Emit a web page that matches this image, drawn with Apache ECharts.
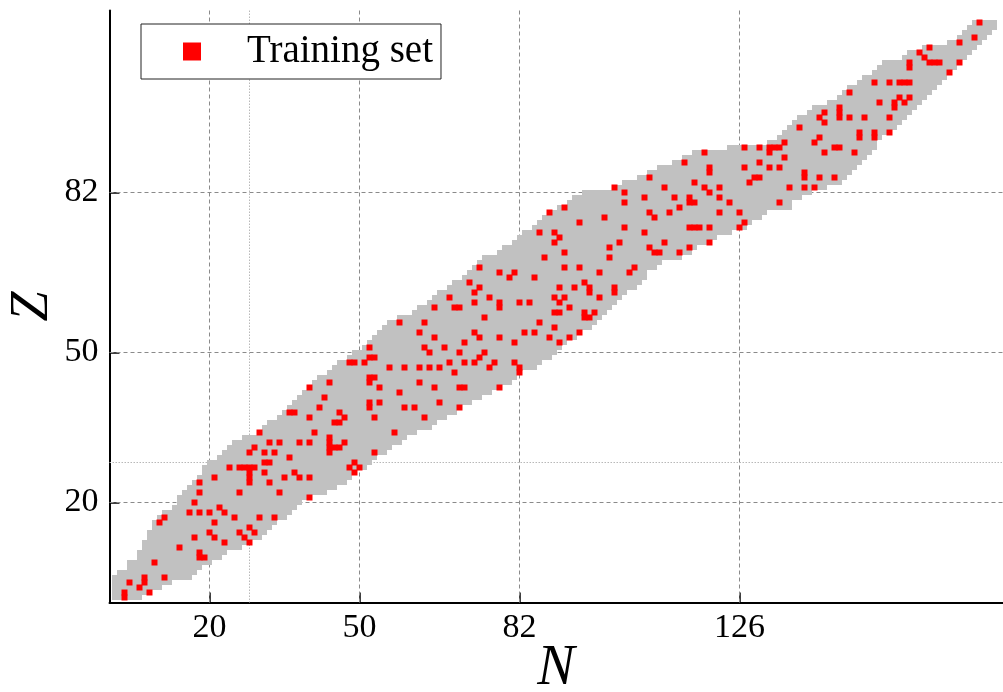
<!DOCTYPE html>
<html>
<head>
<meta charset="utf-8">
<script src="https://cdn.jsdelivr.net/npm/echarts@6/dist/echarts.min.js"></script>
<style>
  html, body { margin: 0; padding: 0; background: #fff; }
  #chart { width: 1003px; height: 692px; }
</style>
</head>
<body>
<div id="chart"></div>
<script>
// Magic numbers marked on the axes, plus the weaker shell closure at 28
const magicN = [20, 50, 82, 126];
const magicZ = [20, 50, 82];
const minorMagic = 28;

// Lightest and heaviest neutron number of the known nuclei, for Z = 1, 2, 3, ...
const nMin = [
  1, 1, 1, 1, 1, 2, 4, 4, 6, 6,
  7, 7, 8, 8, 9, 9, 10, 11, 13, 14,
  14, 15, 16, 17, 18, 19, 19, 20, 22, 23,
  24, 25, 27, 30, 31, 32, 34, 35, 36, 37,
  38, 39, 40, 41, 42, 44, 45, 46, 48, 49,
  51, 52, 53, 54, 55, 56, 58, 61, 62, 64,
  65, 66, 68, 69, 71, 72, 73, 74, 75, 78,
  79, 81, 82, 83, 85, 86, 87, 88, 90, 92,
  93, 95, 101, 103, 106, 108, 110, 113, 115, 117,
  124, 132, 134, 135, 136, 137, 138, 140, 141, 144,
  146, 147, 148, 150, 151, 153, 154, 155, 159, 160,
  163, 168, 170, 171, 172, 173
];
const nMax = [
  6, 8, 10, 12, 16, 17, 18, 20, 22, 23,
  26, 28, 30, 31, 32, 33, 35, 36, 37, 38,
  40, 43, 45, 47, 48, 49, 51, 52, 53, 55,
  56, 58, 59, 61, 64, 65, 67, 69, 70, 72,
  74, 76, 78, 80, 81, 82, 85, 86, 88, 89,
  90, 91, 93, 94, 96, 97, 98, 99, 100, 101,
  102, 103, 105, 106, 107, 107, 109, 110, 114, 116,
  117, 120, 121, 124, 127, 128, 130, 131, 136, 136,
  138, 140, 143, 146, 147, 148, 149, 150, 151, 152,
  153, 153, 154, 156, 157, 158, 159, 160, 161, 162,
  163, 164, 165, 166, 167, 168, 169, 170, 171, 172,
  173, 174, 175, 176, 177, 177
];

// Training-set nuclei as [N, Z]
const trainingSet = [
  [3,1],[3,2],[8,2],[6,3],[4,4],[7,4],[7,5],[11,5],[9,8],[18,9],[19,9],[18,10],[14,11],[23,12],
  [17,13],[21,13],[20,14],[10,16],[21,16],[11,17],[25,17],[16,18],[18,18],[20,18],[23,18],[22,19],
  [17,20],[18,22],[18,24],[21,25],[24,27],
  [48,48],[44,44],[40,43],[43,41],[42,39],[36,38],[37,38],[46,38],[40,37],[47,37],[45,36],[46,36],
  [30,34],[41,34],[44,33],[44,32],[44,31],[45,31],[46,31],[44,30],[47,32],[32,32],[34,32],[38,32],
  [40,32],[29,31],[28,30],[31,30],[33,30],[36,29],[31,28],[32,28],[26,27],[27,27],[28,27],[29,27],
  [28,26],[28,25],[28,24],[31,26],[37,26],[35,25],[38,25],[40,25],[32,24],[26,22],[34,22],[40,21],
  [30,17],[33,17],[28,15],[26,14],[29,14],[27,13],[28,12],
  [68,61],[65,59],[69,59],[70,59],[58,56],[63,56],[62,54],[65,53],[71,52],[52,51],[63,51],[67,51],
  [64,50],[70,50],[52,49],[53,49],[49,48],[51,48],[68,48],[71,48],[56,47],[59,47],[62,47],[64,47],
  [66,47],[69,46],[52,45],[53,45],[52,44],[62,44],[54,43],[65,43],[70,43],[71,43],[58,42],[52,40],
  [52,39],[54,40],[66,40],[59,39],[61,39],[70,39],[53,37],[63,37],[57,34],[53,30],[49,28],[48,27],
  [50,27],[49,26],
  [91,79],[88,78],[94,76],[86,74],[89,74],[90,73],[89,72],[91,70],[87,69],[74,67],[91,67],[94,67],
  [78,66],[81,66],[80,65],[85,65],[72,64],[74,63],[90,63],[93,63],[73,62],[76,61],[89,61],[91,61],
  [73,60],[78,60],[82,60],[84,60],[90,60],[78,59],[92,59],[89,58],[90,58],[75,57],[86,56],[89,55],
  [73,54],[83,54],[85,54],[94,54],[74,53],[78,53],[88,53],[92,53],[81,52],[90,52],[75,50],[74,49],
  [73,48],[77,48],[81,48],[76,47],[82,47],[82,46],[78,43],
  [115,88],[108,85],[101,83],[111,83],[103,82],[103,80],[107,81],[113,81],[116,81],[116,80],[117,80],
  [114,79],[108,78],[112,78],[109,77],[99,77],[103,75],[116,75],[117,75],[107,74],[102,72],[111,72],
  [100,71],[108,71],[116,71],[109,70],[110,70],[114,70],[100,69],[105,67],[98,66],[104,66],[95,64],
  [96,63],[96,62],[101,63],[101,62],[98,61],[95,58],[95,57],[96,57],[97,58],
  [138,95],[135,92],[127,91],[130,91],[132,91],[133,91],[134,91],[132,90],[119,90],[130,88],[135,89],
  [120,87],[120,86],[127,87],[132,87],[134,87],[139,86],[139,85],[129,85],[130,85],[128,84],[117,84],
  [119,83],[122,83],[120,82],[136,83],[139,83],[122,81],[124,80],[134,80],[122,78],[126,78],[127,76],
  [118,75],[120,75],[126,75],[120,72],
  [162,110],[163,109],[160,108],[160,107],[153,104],[156,104],[158,104],[159,104],[160,104],[148,102],
  [158,101],[160,101],[154,100],[157,100],[157,99],[159,100],[146,99],[146,98],[146,97],[143,98],
  [142,97],[143,96],[148,97],[151,97],[156,97],[150,94],[150,93],[153,94],[153,93],[156,94],[142,93],
  [141,92],[145,91],[146,91],[143,90],[149,90],[142,85],[145,85],[141,83],
  [174,116],[173,113],[170,112],[164,111],[164,108],[165,108],[166,108],[170,108],[168,106]
];

const SERIF = '"Liberation Serif", "Times New Roman", serif';
const GRAY = '#c1c1c1';
const RED = '#ff0000';

// One horizontal strip per proton number: [Z, Nmin, Nmax]
const rowData = nMin.map((lo, i) => [i + 1, lo, nMax[i]]);

// Reference lines: [axis (0 = N, 1 = Z), value, weak (1) or strong (0) closure]
const gridData = [
  ...magicN.map(v => [0, v, 0]),
  [0, minorMagic, 1],
  ...magicZ.map(v => [1, v, 0]),
  [1, minorMagic, 1]
];

function renderGrid(params, api) {
  const dir = api.value(0), v = api.value(1), weak = api.value(2);
  const cs = params.coordSys;
  let shape;
  if (dir === 0) {
    const p = api.coord([v, 0]);
    shape = { x1: p[0], y1: cs.y, x2: p[0], y2: cs.y + cs.height };
  } else {
    const p = api.coord([0, v]);
    shape = { x1: cs.x, y1: p[1], x2: cs.x + cs.width, y2: p[1] };
  }
  return {
    type: 'line',
    shape,
    style: weak
      ? { stroke: '#b8b8b8', lineWidth: 1, lineDash: [1.5, 1.5] }
      : { stroke: '#8a8a8a', lineWidth: 1, lineDash: [4, 3] }
  };
}

function renderRow(params, api) {
  const z = api.value(0), lo = api.value(1), hi = api.value(2);
  const a = api.coord([lo - 0.5, z + 0.5]);
  const b = api.coord([hi + 0.5, z - 0.5]);
  return {
    type: 'rect',
    shape: { x: a[0], y: a[1], width: b[0] - a[0], height: b[1] - a[1] },
    style: { fill: GRAY }
  };
}

// Marker squares are drawn a little larger than one cell
const HALF = 0.6;
function renderCell(params, api) {
  const n = api.value(0), z = api.value(1);
  const a = api.coord([n - HALF, z + HALF]);
  const b = api.coord([n + HALF, z - HALF]);
  return {
    type: 'rect',
    shape: { x: a[0], y: a[1], width: b[0] - a[0], height: b[1] - a[1] },
    style: { fill: RED }
  };
}

const chart = echarts.init(document.getElementById('chart'), null, { renderer: 'canvas' });

chart.setOption({
  animation: false,
  backgroundColor: '#fff',
  grid: { left: 109.5, right: 0.5, top: 10.5, bottom: 89.5, containLabel: false, outerBoundsMode: 'none' },
  xAxis: {
    type: 'value',
    min: 0,
    max: 178.6,
    name: 'N',
    nameLocation: 'middle',
    nameGap: 39,
    nameMoveOverlap: false,
    nameTextStyle: { fontFamily: SERIF, fontStyle: 'italic', fontSize: 56, color: '#000' },
    axisLine: { show: true, onZero: false, lineStyle: { color: '#000', width: 2 } },
    axisTick: { show: true, inside: true, length: 10, customValues: magicN, lineStyle: { color: '#000', width: 1.5 } },
    axisLabel: { customValues: magicN, fontFamily: SERIF, fontSize: 34, color: '#000', margin: 9 },
    splitLine: { show: false }
  },
  yAxis: {
    type: 'value',
    min: 0,
    max: 118.4,
    name: 'Z',
    nameLocation: 'middle',
    nameGap: 50,
    nameMoveOverlap: false,
    nameTextStyle: { fontFamily: SERIF, fontStyle: 'italic', fontSize: 54, color: '#000' },
    axisLine: { show: true, onZero: false, lineStyle: { color: '#000', width: 2 } },
    axisTick: { show: true, inside: true, length: 10, customValues: magicZ, lineStyle: { color: '#000', width: 1.5 } },
    axisLabel: { customValues: magicZ, fontFamily: SERIF, fontSize: 34, color: '#000', margin: 11 },
    splitLine: { show: false }
  },
  legend: {
    left: 141,
    top: 24,
    data: [{ name: 'Training set', icon: 'rect' }],
    itemWidth: 18,
    itemHeight: 18,
    padding: [8, 8, 8, 42],
    backgroundColor: '#fff',
    borderColor: '#222',
    borderWidth: 1,
    borderRadius: 0,
    selectedMode: false,
    textStyle: { fontFamily: SERIF, fontSize: 39, color: '#000', lineHeight: 39, padding: [0, 0, 0, 41] }
  },
  series: [
    {
      type: 'custom',
      name: 'grid',
      silent: true,
      z: 1,
      renderItem: renderGrid,
      data: gridData
    },
    {
      type: 'custom',
      name: 'Nuclei',
      silent: true,
      z: 2,
      encode: { x: [1, 2], y: 0 },
      renderItem: renderRow,
      itemStyle: { color: GRAY },
      data: rowData
    },
    {
      type: 'custom',
      name: 'Training set',
      silent: true,
      z: 3,
      encode: { x: 0, y: 1 },
      renderItem: renderCell,
      itemStyle: { color: RED },
      data: trainingSet
    }
  ]
});
</script>
</body>
</html>
